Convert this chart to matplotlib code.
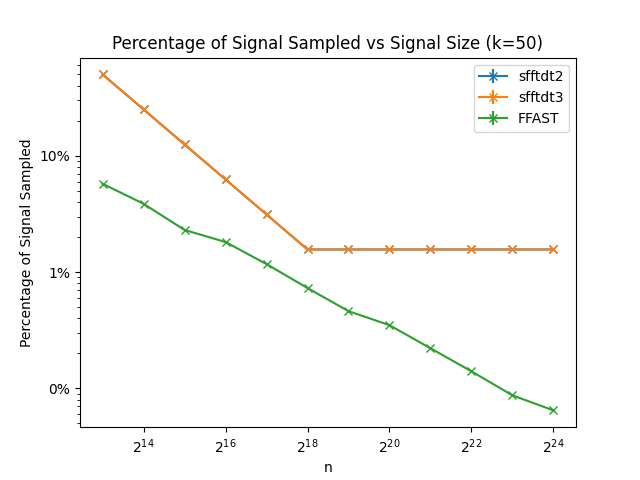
import matplotlib
matplotlib.use('Agg')
import matplotlib.pyplot as plt
import numpy as np
from matplotlib.ticker import PercentFormatter, FixedLocator

exponents	= np.arange(13, 25)
n		= 2.0 ** exponents

sfftdt2		= [0.5, 0.25, 0.125, 0.0625, 0.03125, 0.015625, 0.015625, 0.015625,
		   0.015625, 0.015625, 0.015625, 0.015625]
sfftdt3		= [0.5, 0.25, 0.125, 0.0625, 0.03125, 0.015625, 0.015625, 0.015625,
		   0.015625, 0.015625, 0.015625, 0.015625]
ffast		= [0.0574, 0.0386, 0.0230, 0.0181, 0.0117, 0.00728, 0.00461, 0.00349,
		   0.00221, 0.00140, 0.00087, 0.000646]
err		= np.zeros(len(n))

tick_exp	= [14, 16, 18, 20, 22, 24]

fig, ax = plt.subplots(figsize=(6.4, 4.8), dpi=100)

ax.errorbar(n, sfftdt2, yerr=err, marker='x', label='sfftdt2')
ax.errorbar(n, sfftdt3, yerr=err, marker='x', label='sfftdt3')
ax.errorbar(n, ffast, yerr=err, marker='x', label='FFAST')

ax.set_xscale('log', base=2)
ax.set_yscale('log')
ax.xaxis.set_major_locator(FixedLocator([2.0 ** e for e in tick_exp]))
ax.xaxis.set_minor_locator(FixedLocator([]))
ax.set_xticklabels(['$2^{%d}$' % e for e in tick_exp])
ax.yaxis.set_major_formatter(PercentFormatter(1, decimals=0))

ax.set_title('Percentage of Signal Sampled vs Signal Size (k=50)')
ax.set_xlabel('n')
ax.set_ylabel('Percentage of Signal Sampled')
ax.legend()

plt.savefig('out.png')
